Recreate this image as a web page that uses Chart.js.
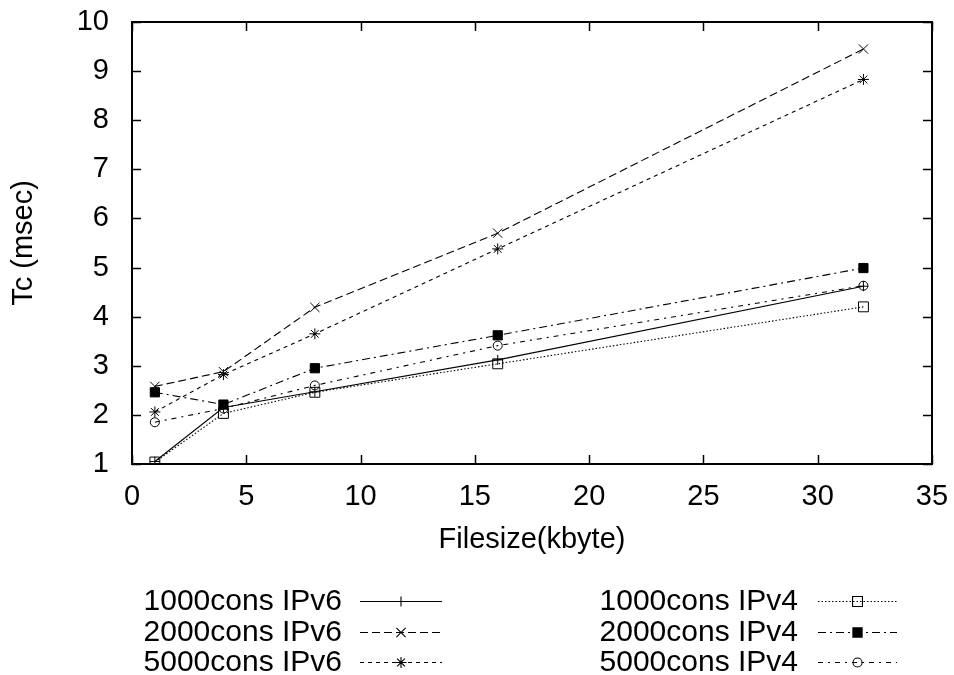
<!DOCTYPE html>
<html>
<head>
<meta charset="utf-8">
<script src="https://cdn.jsdelivr.net/npm/chart.js@4.4.1/dist/chart.umd.min.js"></script>
<style>
    html, body { margin: 0; padding: 0; background: #fff; }
    #wrap { width: 954px; height: 675px; }
</style>
</head>
<body>
<div id="wrap"><canvas id="tcChart" width="954" height="675"></canvas></div>
<script>
    'use strict';
    var fileSizes = [1, 4, 8, 16, 32];
    var ipv6_1000 = [1.05, 2.15, 2.47, 3.12, 4.62];
    var ipv6_2000 = [2.58, 2.88, 4.19, 5.70, 9.45];
    var ipv6_5000 = [2.06, 2.82, 3.65, 5.38, 8.83];
    var ipv4_1000 = [1.04, 2.03, 2.46, 3.04, 4.20];
    var ipv4_2000 = [2.46, 2.21, 2.95, 3.62, 4.99];
    var ipv4_5000 = [1.85, 2.13, 2.60, 3.41, 4.63];
    var seriesLabels = ['1000cons IPv6', '2000cons IPv6', '5000cons IPv6',
                        '1000cons IPv4', '2000cons IPv4', '5000cons IPv4'];

    var FONT = "'Liberation Sans', Arial, Helvetica, sans-serif";

    function toPoints(values) {
        return values.map(function (v, i) {
            return {x: fileSizes[i], y: v};
        });
    }

    function makeSet(label, values, dash, style, radius, fill) {
        return {
            label: label,
            data: toPoints(values),
            borderColor: '#000',
            borderWidth: 1.1,
            borderDash: dash,
            fill: false,
            tension: 0,
            pointStyle: style,
            pointRadius: radius,
            pointHoverRadius: radius,
            pointBorderColor: '#000',
            pointBorderWidth: 1,
            pointBackgroundColor: fill
        };
    }

    // the label overhang padding would shrink the plot box, drop it
    function clearPad(scale) {
        scale.paddingTop = 0;
        scale.paddingBottom = 0;
        scale.paddingLeft = 0;
        scale.paddingRight = 0;
    }

    // inward ticks on all four sides plus the frame, gnuplot style
    var frameTicks = {
        id: 'frameTicks',
        afterDraw: function (chart) {
            var ctx = chart.ctx;
            var a = chart.chartArea;
            var xs = chart.scales.x, ys = chart.scales.y;
            var len = 9;
            ctx.save();
            ctx.strokeStyle = '#000';
            ctx.lineWidth = 1.5;
            ctx.beginPath();
            xs.ticks.forEach(function (t) {
                var px = Math.round(xs.getPixelForValue(t.value)) + 0.5;
                ctx.moveTo(px, a.bottom);
                ctx.lineTo(px, a.bottom - len);
                ctx.moveTo(px, a.top);
                ctx.lineTo(px, a.top + len);
            });
            ys.ticks.forEach(function (t) {
                var py = Math.round(ys.getPixelForValue(t.value)) + 0.5;
                ctx.moveTo(a.left, py);
                ctx.lineTo(a.left + len, py);
                ctx.moveTo(a.right, py);
                ctx.lineTo(a.right - len, py);
            });
            ctx.stroke();
            ctx.lineWidth = 2;
            ctx.strokeRect(a.left, a.top, a.right - a.left, a.bottom - a.top);
            ctx.restore();
        }
    };

    // two-column key below the plot: text, then line sample with marker
    var keyBox = {
        id: 'keyBox',
        afterDraw: function (chart) {
            var ctx = chart.ctx;
            var rows = [601, 632, 662];
            var cols = [
                {textRight: 342, x0: 360, x1: 442},
                {textRight: 798, x0: 818, x1: 897}
            ];
            ctx.save();
            ctx.font = '30px ' + FONT;
            ctx.textAlign = 'right';
            ctx.textBaseline = 'middle';
            chart.data.datasets.forEach(function (ds, i) {
                var c = cols[Math.floor(i / 3)];
                var y = rows[i % 3];
                ctx.fillStyle = '#000';
                ctx.fillText(ds.label, c.textRight, y + 1);
                ctx.strokeStyle = '#000';
                ctx.lineWidth = ds.borderWidth;
                ctx.setLineDash(ds.borderDash || []);
                ctx.beginPath();
                ctx.moveTo(c.x0, y + 0.5);
                ctx.lineTo(c.x1, y + 0.5);
                ctx.stroke();
                ctx.setLineDash([]);
                ctx.fillStyle = ds.pointBackgroundColor;
                Chart.helpers.drawPoint(ctx, {
                    pointStyle: ds.pointStyle,
                    radius: ds.pointRadius,
                    rotation: 0,
                    borderWidth: 1
                }, (c.x0 + c.x1) / 2, y + 0.5);
            });
            ctx.restore();
        }
    };

    var ctxEl = document.getElementById('tcChart').getContext('2d');
    var chart = new Chart(ctxEl, {
        type: 'line',
        data: {
            datasets: [
                makeSet(seriesLabels[0], ipv6_1000, [], 'cross', 5, '#000'),
                makeSet(seriesLabels[1], ipv6_2000, [8, 4], 'crossRot', 6.5, '#000'),
                makeSet(seriesLabels[2], ipv6_5000, [4, 4], 'star', 5.5, '#000'),
                makeSet(seriesLabels[3], ipv4_1000, [1.5, 2], 'rect', 7, 'rgba(255,255,255,0)'),
                makeSet(seriesLabels[4], ipv4_2000, [8, 4, 2, 4], 'rect', 6.5, '#000'),
                makeSet(seriesLabels[5], ipv4_5000, [5, 5, 2, 5], 'circle', 4.5, 'rgba(255,255,255,0)')
            ]
        },
        options: {
            responsive: false,
            animation: false,
            events: [],
            layout: {
                autoPadding: false,
                padding: {left: 7, right: 22, top: 22, bottom: 118}
            },
            plugins: {
                legend: {display: false},
                tooltip: {enabled: false}
            },
            scales: {
                x: {
                    type: 'linear',
                    min: 0,
                    max: 35,
                    ticks: {
                        stepSize: 5,
                        padding: 8,
                        color: '#000',
                        maxRotation: 0,
                        font: {family: FONT, size: 29}
                    },
                    grid: {display: false},
                    border: {display: false},
                    title: {
                        display: true,
                        text: 'Filesize(kbyte)',
                        color: '#000',
                        padding: 0,
                        font: {family: FONT, size: 29}
                    },
                    afterFit: function (scale) {
                        scale.height = 93;
                        clearPad(scale);
                    }
                },
                y: {
                    min: 1,
                    max: 10,
                    ticks: {
                        stepSize: 1,
                        padding: 15,
                        color: '#000',
                        font: {family: FONT, size: 29}
                    },
                    grid: {display: false},
                    border: {display: false},
                    title: {
                        display: true,
                        text: 'Tc (msec)',
                        color: '#000',
                        padding: 0,
                        font: {family: FONT, size: 29}
                    },
                    afterFit: function (scale) {
                        scale.width = 125;
                        clearPad(scale);
                    }
                }
            }
        },
        plugins: [frameTicks, keyBox]
    });
</script>
</body>
</html>
